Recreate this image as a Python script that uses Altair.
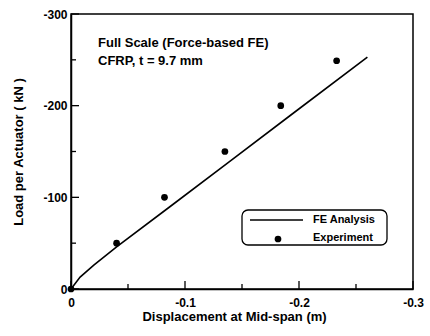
import altair as alt
import pandas as pd

# ---- data ----
fe_disp = [0, -0.008, -0.02, -0.04, -0.087, -0.139, -0.192, -0.26]
fe_load = [0, -13, -26, -46, -90, -139, -189, -253]
exp_disp = [0, -0.040, -0.082, -0.135, -0.184, -0.233]
exp_load = [0, -50, -100, -150, -200, -249]
x_major = [0, -0.1, -0.2, -0.3]
x_minor = [-0.05, -0.15, -0.25]
y_major = [0, -100, -200, -300]
y_minor = [-50, -150, -250]
series_names = ["FE Analysis", "Experiment"]
note_lines = ["Full Scale (Force-based FE)", "CFRP, t = 9.7 mm"]
x_title = "Displacement at Mid-span (m)"
y_title = "Load per Actuator ( kN )"

W, H = 342, 275
FONT = "Liberation Sans"

xs = alt.Scale(domain=[0, -0.3], nice=False, zero=False)
ys = alt.Scale(domain=[0, -300], nice=False, zero=False)

fe_df = pd.DataFrame({"d": fe_disp, "l": fe_load})
exp_df = pd.DataFrame({"d": exp_disp, "l": exp_load})

x_axis = alt.Axis(
    values=x_major,
    labelExpr="datum.value == 0 ? '0' : '-' + format(abs(datum.value), '.1f')",
    tickSize=0, labelPadding=8, labelFontSize=12, labelFontWeight="bold",
    labelColor="black", labelFlush=False, labelOverlap=False,
    domainColor="black", domainWidth=1.5, grid=False,
    title=x_title, titleFontSize=13, titleFontWeight="bold", titleColor="black",
    titleX=163, titleY=31, titleBaseline="alphabetic", titleAlign="center",
)
y_axis = alt.Axis(
    values=y_major,
    labelExpr="datum.value == 0 ? '0' : '-' + format(abs(datum.value), 'd')",
    tickSize=0, labelPadding=4, labelFontSize=12, labelFontWeight="bold",
    labelColor="black", labelFlush=False, labelOverlap=False,
    domainColor="black", domainWidth=1.5, grid=False,
    title=y_title, titleFontSize=13, titleFontWeight="bold", titleColor="black",
    titleX=-53, titleY=137.5, titleAngle=270, titleBaseline="middle", titleAlign="center",
)

line = alt.Chart(fe_df).mark_line(color="black", strokeWidth=1.6).encode(
    x=alt.X("d:Q", scale=xs, axis=x_axis),
    y=alt.Y("l:Q", scale=ys, axis=y_axis),
)
points = alt.Chart(exp_df).mark_circle(color="black", size=45, opacity=1).encode(
    x=alt.X("d:Q", scale=xs, axis=x_axis),
    y=alt.Y("l:Q", scale=ys, axis=y_axis),
)

def xticks(vals, length):
    return alt.Chart(pd.DataFrame({"d": vals})).mark_rule(color="black", strokeWidth=1.3).encode(
        x=alt.X("d:Q", scale=xs, axis=x_axis), y=alt.value(H), y2=alt.value(H - length)
    )

def yticks(vals, length):
    return alt.Chart(pd.DataFrame({"l": vals})).mark_rule(color="black", strokeWidth=1.3).encode(
        y=alt.Y("l:Q", scale=ys, axis=y_axis), x=alt.value(0), x2=alt.value(length)
    )

notes = alt.Chart(pd.DataFrame({"t": ["\n".join(note_lines)]})).mark_text(
    align="left", baseline="alphabetic", font=FONT, fontSize=13, fontWeight="bold",
    color="black", lineBreak="\n", lineHeight=18,
).encode(text="t:N", x=alt.value(27), y=alt.value(33))

# ---- legend box (drawn as marks) ----
LX, LY, LW, LH = 171, 196, 145, 35
leg_box = alt.Chart(pd.DataFrame({"s": [series_names[0]]})).mark_rect(
    fill="white", stroke="black", strokeWidth=1.3, cornerRadius=6
).encode(x=alt.value(LX), x2=alt.value(LX + LW), y=alt.value(LY), y2=alt.value(LY + LH))
leg_line = alt.Chart(pd.DataFrame({"s": [series_names[0]]})).mark_rule(
    color="black", strokeWidth=1.6
).encode(x=alt.value(LX + 8), x2=alt.value(LX + 61), y=alt.value(LY + 10))
leg_dot = alt.Chart(pd.DataFrame({"s": [series_names[1]]})).mark_circle(
    color="black", size=45, opacity=1
).encode(x=alt.value(LX + 36), y=alt.value(LY + 29))
leg_lab1 = alt.Chart(pd.DataFrame({"s": [series_names[0]]})).mark_text(
    align="left", baseline="middle", font=FONT, fontSize=11, fontWeight="bold", color="black"
).encode(text="s:N", x=alt.value(LX + 71), y=alt.value(LY + 10))
leg_lab2 = alt.Chart(pd.DataFrame({"s": [series_names[1]]})).mark_text(
    align="left", baseline="middle", font=FONT, fontSize=11, fontWeight="bold", color="black"
).encode(text="s:N", x=alt.value(LX + 71), y=alt.value(LY + 28))

chart = alt.layer(
    line, points,
    xticks(x_major, 8), xticks(x_minor, 5), yticks(y_major, 8), yticks(y_minor, 5),
    notes, leg_box, leg_line, leg_dot, leg_lab1, leg_lab2,
).properties(
    width=W, height=H,
    padding={"left": 71, "top": 14, "right": 17, "bottom": 47},
    autosize=alt.AutoSizeParams(type="none"),
).configure(font=FONT).configure_view(stroke="black", strokeWidth=1.5).configure_axis(
    labelFont=FONT, titleFont=FONT
)

chart.save("out.html", embed_options={"renderer": "svg", "actions": False})
